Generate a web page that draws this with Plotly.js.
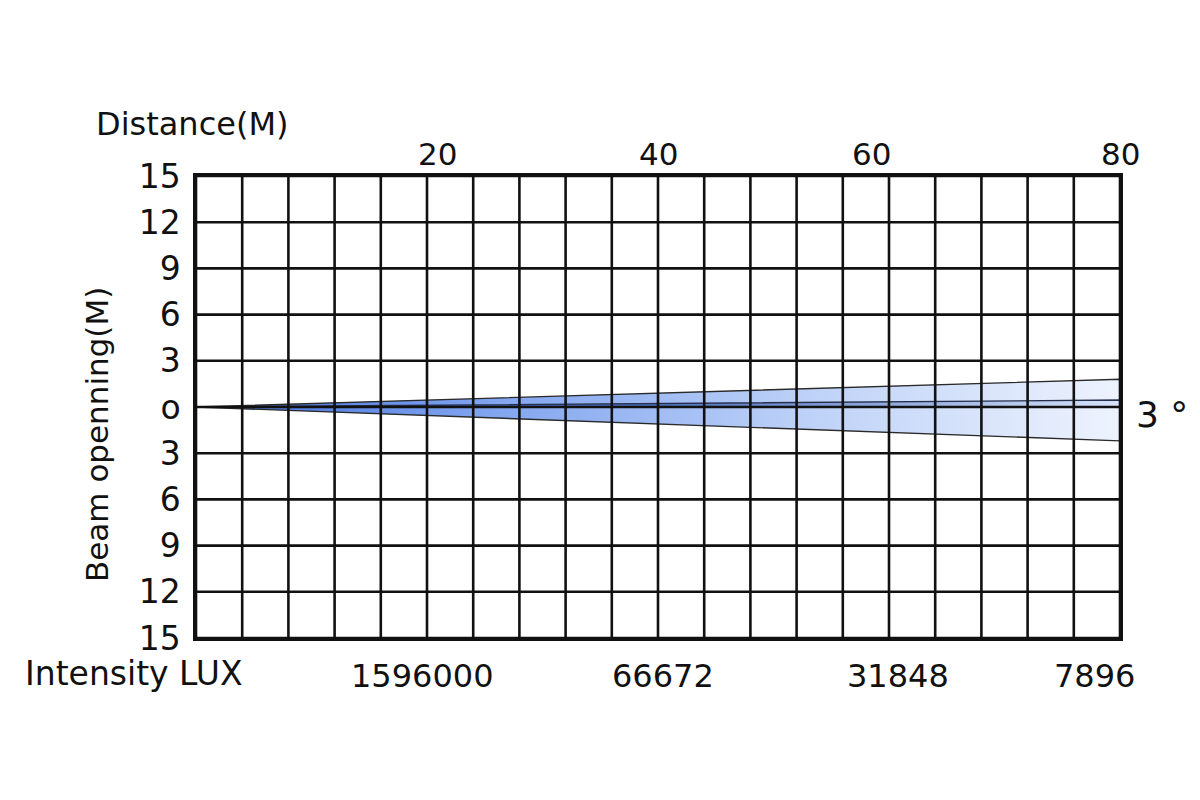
<!DOCTYPE html>
<html>
<head>
<meta charset="utf-8">
<script src="https://cdn.plot.ly/plotly-3.0.1.min.js"></script>
<style>html,body{margin:0;padding:0;background:#fff;}#chart{width:1200px;height:800px;}</style>
</head>
<body>
<div id="chart"></div>
<script>
// ---- data ----
const distanceTicks = [20, 40, 60, 80];
const distanceLabels = ['20', '40', '60', '80'];
const intensityLabels = ['1596000', '66672', '31848', '7896'];
const beamTickVals = [15, 12, 9, 6, 3, 0, -3, -6, -9, -12, -15];
const beamTickText = ['15', '12', '9', '6', '3', 'o', '3', '6', '9', '12', '15'];
const beamX = [0, 80];
const beamUpper = [0, 1.8];
const beamLower = [0, -2.2];
const beamCenter = [0, 0.45];
const beamAngle = '3 °';

const FONT = 'DejaVu Sans, Arial, sans-serif';

const traces = [
  {
    type: 'scatter', mode: 'lines',
    x: [beamX[0], beamX[1], beamX[1], beamX[0]],
    y: [beamUpper[0], beamUpper[1], beamLower[1], beamLower[0]],
    fill: 'toself',
    fillgradient: {type: 'horizontal', colorscale: [[0, '#3f6fdc'], [0.3, '#7ea2ee'], [0.65, '#bcd0f7'], [1, '#eef3fd']]},
    line: {color: '#2a2a2a', width: 1.4},
    hoverinfo: 'skip', showlegend: false
  },
  {
    type: 'scatter', mode: 'lines',
    x: [beamX[0], beamX[1], beamX[1], beamX[0]],
    y: [0, beamCenter[1], 0, 0],
    fill: 'toself',
    fillgradient: {type: 'horizontal', colorscale: [[0, '#2f54b0'], [0.5, '#4f72c0'], [1, '#d6e2fa']]},
    line: {color: '#26304d', width: 1.4},
    hoverinfo: 'skip', showlegend: false
  }
];

// grid drawn above the beam
const shapes = [];
for (let x = 0; x <= 80; x += 4) {
  shapes.push({type: 'line', xref: 'x', yref: 'y', x0: x, x1: x, y0: -15, y1: 15,
    line: {color: '#111', width: 2.6}, layer: 'above'});
}
for (const v of beamTickVals) {
  shapes.push({type: 'line', xref: 'x', yref: 'y', x0: 0, x1: 80, y0: v, y1: v,
    line: {color: '#111', width: 2.6}, layer: 'above'});
}

const annotations = [];
distanceTicks.forEach((d, i) => {
  annotations.push({xref: 'x', yref: 'paper', x: d, y: 1, yanchor: 'bottom', yshift: 2,
    xshift: i === 0 ? 10 : (i === 2 ? -18 : 0),
    text: distanceLabels[i], showarrow: false, font: {family: FONT, size: 31, color: '#111'}});
  const last = i === distanceTicks.length - 1;
  annotations.push({xref: 'x', yref: 'paper', x: d, y: 0, yanchor: 'middle', yshift: -38,
    xanchor: last ? 'right' : 'center', xshift: last ? 17 : (i === 1 ? 5 : (i === 2 ? 9 : -5)),
    text: intensityLabels[i], showarrow: false, font: {family: FONT, size: 32, color: '#111'}});
});
annotations.push({xref: 'paper', yref: 'paper', x: 0, y: 1, xanchor: 'center', yanchor: 'middle',
  xshift: -4, yshift: 52, text: 'Distance(M)', showarrow: false, font: {family: FONT, size: 32, color: '#111'}});
annotations.push({xref: 'paper', yref: 'paper', x: 0, y: 0, xanchor: 'center', yanchor: 'middle',
  xshift: -62, yshift: -35, text: 'Intensity LUX', showarrow: false, font: {family: FONT, size: 33, color: '#111'}});
annotations.push({xref: 'paper', yref: 'paper', x: 0, y: 0.5, xanchor: 'center', yanchor: 'middle',
  xshift: -99, yshift: -28, textangle: -90, text: 'Beam openning(M)', showarrow: false, font: {family: FONT, size: 31, color: '#111'}});
annotations.push({xref: 'paper', yref: 'y', x: 1, y: 0, xanchor: 'left', yanchor: 'middle',
  xshift: 14, yshift: -7, text: beamAngle, showarrow: false, font: {family: FONT, size: 36, color: '#111'}});

const layout = {
  width: 1200, height: 800,
  margin: {l: 196, r: 80, t: 176, b: 162},
  paper_bgcolor: '#fff', plot_bgcolor: '#fff',
  showlegend: false,
  xaxis: {range: [0, 80], showgrid: false, zeroline: false, showticklabels: false, ticks: '',
    showline: true, mirror: true, linecolor: '#111', linewidth: 2.6, fixedrange: true},
  yaxis: {range: [-15, 15], showgrid: false, zeroline: false, tickmode: 'array',
    tickvals: beamTickVals, ticktext: beamTickText, ticks: '', ticklabelstandoff: 6,
    tickfont: {family: FONT, size: 33, color: '#111'},
    showline: true, mirror: true, linecolor: '#111', linewidth: 2.6, fixedrange: true},
  shapes: shapes,
  annotations: annotations
};

Plotly.newPlot('chart', traces, layout, {displayModeBar: false, staticPlot: true});
</script>
</body>
</html>
